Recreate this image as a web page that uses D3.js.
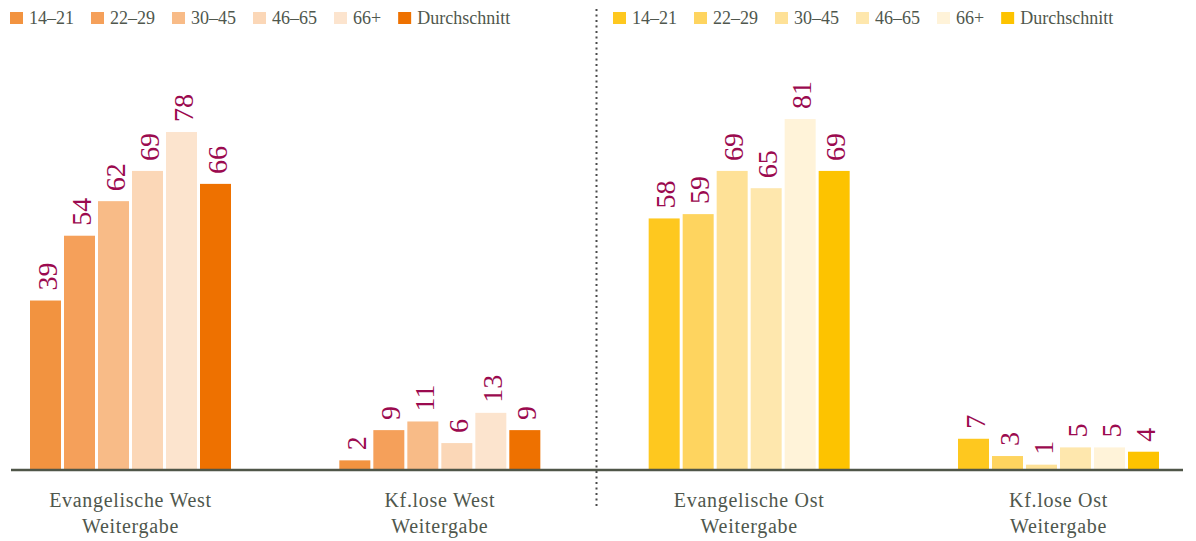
<!DOCTYPE html>
<html>
<head>
<meta charset="utf-8">
<script src="https://cdn.jsdelivr.net/npm/d3@7"></script>
<style>
  body { margin: 0; background: #fff; }
  svg { display: block; font-family: "Liberation Serif", serif; }
</style>
</head>
<body>
<div id="chart"></div>
<script>
// chart data
const groups = ["Evangelische West", "Kf.lose West", "Evangelische Ost", "Kf.lose Ost"];
const groupSub = "Weitergabe";
const ageGroups = ["14–21", "22–29", "30–45", "46–65", "66+", "Durchschnitt"];
const evWest = [39, 54, 62, 69, 78, 66];
const kfWest = [2, 9, 11, 6, 13, 9];
const evOst = [58, 59, 69, 65, 81, 69];
const kfOst = [7, 3, 1, 5, 5, 4];
const westColors = ["#f29340", "#f5a05a", "#f8bb87", "#fbd7b7", "#fce4ce", "#ee7100"];
const ostColors = ["#fec81f", "#fed45f", "#fee197", "#fee7ad", "#fff3d9", "#fdc300"];

(function () {
  const width = 1196, height = 541;
  const baseY = 469;

  const svg = d3.select("#chart").append("svg")
      .attr("width", width)
      .attr("height", height);

  const series = [evWest, kfWest, evOst, kfOst];
  const palettes = [westColors, westColors, ostColors, ostColors];

  // group centres and bars inside each group
  const x0 = d3.scalePoint().domain(groups).range([130.5, 1058.5]);
  const x1 = d3.scaleBand().domain(ageGroups).range([-100.5, 100.5]).paddingInner(3 / 34);
  const y = d3.scaleLinear().domain([0, 100]).range([baseY, baseY - 432]);

  groups.forEach((g, gi) => {
    const gEl = svg.append("g").attr("transform", `translate(${x0(g)},0)`);
    const vals = series[gi];

    gEl.selectAll("rect")
      .data(ageGroups)
      .join("rect")
      .attr("x", d => x1(d))
      .attr("width", x1.bandwidth())
      .attr("y", (d, i) => y(vals[i]))
      .attr("height", (d, i) => baseY - y(vals[i]))
      .attr("fill", (d, i) => palettes[gi][i]);

    // value labels, rotated
    gEl.selectAll("text.val")
      .data(ageGroups)
      .join("text")
      .attr("class", "val")
      .attr("transform", (d, i) => `translate(${x1(d) + x1.bandwidth() / 2},${y(vals[i]) - 10}) rotate(-90)`)
      .attr("dy", "0.4em")
      .style("font-size", "28px")
      .style("fill", "#9b0a4f")
      .text((d, i) => vals[i]);

    // category label
    const lab = gEl.append("text")
      .attr("text-anchor", "middle")
      .style("font-size", "20px")
      .style("letter-spacing", "0.7px")
      .style("fill", "#4f574d");
    lab.append("tspan").attr("x", 0).attr("y", 507).text(g);
    lab.append("tspan").attr("x", 0).attr("y", 533).text(groupSub);
  });

  // baseline
  svg.append("line")
    .attr("x1", 11).attr("x2", 1183)
    .attr("y1", baseY + 1).attr("y2", baseY + 1)
    .attr("stroke", "#4f5648")
    .attr("stroke-width", 2.5);

  // dotted divider
  svg.append("line")
    .attr("x1", 596.5).attr("x2", 596.5)
    .attr("y1", 9).attr("y2", 508)
    .attr("stroke", "#4a4a4a")
    .attr("stroke-width", 2)
    .attr("stroke-dasharray", "2,3.5");

  // legends
  function legend(startX, colors) {
    let cx = startX;
    ageGroups.forEach((a, i) => {
      svg.append("rect")
        .attr("x", cx).attr("y", 12)
        .attr("width", 13).attr("height", 12)
        .attr("fill", colors[i]);
      const t = svg.append("text")
        .attr("x", cx + 19).attr("y", 24)
        .style("font-size", "18px")
        .style("fill", "#4f574d")
        .text(a);
      cx += 19 + t.node().getComputedTextLength() + 17;
    });
  }
  legend(10, westColors);
  legend(613, ostColors);
})();
</script>
</body>
</html>
